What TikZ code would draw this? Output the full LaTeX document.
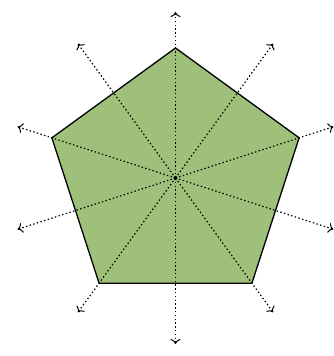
\documentclass[tikz,border=0pt]{standalone}
\usetikzlibrary{arrows.meta}
\definecolor{leaf}{RGB}{158,192,122}
\begin{document}
\begin{tikzpicture}[x=1pt,y=1pt,
  ray/.style={line width=1.2pt, dash pattern=on 1.4pt off 2.4pt,
    -{To[length=5pt,width=10pt,line width=1pt]}},
  penta/.style={fill=leaf, draw=black, line width=1.3pt, line join=miter}]
\useasboundingbox (-175.5,-178) rectangle (158.5,178);
\coordinate (c) at (0,0);
\foreach \i/\a in {1/90,2/162,3/234,4/306,5/18}{
  \coordinate (v\i) at (\a:130);
  \coordinate (t\i) at (\a:166);
}
\foreach \i/\a in {1/126,2/198,3/270,4/342,5/54}{
  \coordinate (m\i) at (\a:166);
}
\draw[penta] (v1) -- (v2) -- (v3) -- (v4) -- (v5) -- cycle;
\foreach \i in {1,...,5}{
  \draw[ray] (c) -- (t\i);
  \draw[ray] (c) -- (m\i);
}
\fill (c) circle (2pt);
\end{tikzpicture}
\end{document}
